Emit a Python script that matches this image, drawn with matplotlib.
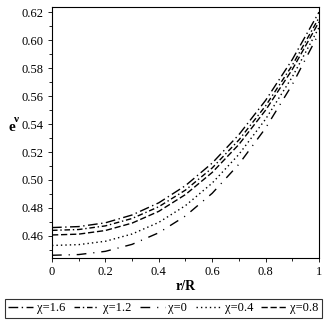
import numpy as np
import matplotlib
matplotlib.use("Agg")
import matplotlib.pyplot as plt
from matplotlib.ticker import MultipleLocator

plt.rcParams['font.family'] = ['Liberation Serif', 'DejaVu Serif']

## data
r = [0.0, 0.1, 0.2, 0.3, 0.4, 0.5, 0.6, 0.7, 0.8, 0.9, 1.0]
chi_16 = [0.4660, 0.4667, 0.4694, 0.4750, 0.4837, 0.4960, 0.5121, 0.5324, 0.5569, 0.5861, 0.6200]
chi_12 = [0.4640, 0.4646, 0.4672, 0.4725, 0.4809, 0.4928, 0.5086, 0.5286, 0.5530, 0.5820, 0.6160]
chi_08 = [0.4607, 0.4613, 0.4639, 0.4692, 0.4776, 0.4896, 0.5054, 0.5254, 0.5499, 0.5790, 0.6130]
chi_04 = [0.4532, 0.4538, 0.4562, 0.4614, 0.4697, 0.4817, 0.4978, 0.5183, 0.5435, 0.5737, 0.6090]
chi_00 = [0.4462, 0.4467, 0.4490, 0.4540, 0.4623, 0.4743, 0.4905, 0.5113, 0.5371, 0.5682, 0.6050]

fig = plt.figure(figsize=(3.27, 3.22), dpi=100)
ax = fig.add_axes([0.159, 0.199, 0.8165, 0.779])

lw = 1.0
ax.plot(r, chi_16, color='k', lw=lw, dashes=(7, 2.5, 1, 2.5), label='χ=1.6')
ax.plot(r, chi_12, color='k', lw=lw, dashes=(4, 2, 1, 2), label='χ=1.2')
ax.plot(r, chi_00, color='k', lw=lw, dashes=(7, 5, 0.8, 5), label='χ=0')
ax.plot(r, chi_04, color='k', lw=lw, dashes=(1, 2.2), label='χ=0.4')
ax.plot(r, chi_08, color='k', lw=lw, dashes=(4.5, 2), label='χ=0.8')

ax.set_xlim(0, 1)
ax.set_ylim(0.4443, 0.6236)
ax.set_xticks([0, 0.2, 0.4, 0.6, 0.8, 1.0])
ax.set_xticklabels(['0', '0.2', '0.4', '0.6', '0.8', '1'])
ax.set_yticks(np.arange(0.46, 0.621, 0.02))
ax.set_yticklabels(['%.2f' % v for v in np.arange(0.46, 0.621, 0.02)])
ax.xaxis.set_minor_locator(MultipleLocator(0.1))
ax.yaxis.set_minor_locator(MultipleLocator(0.01))
ax.tick_params(which='major', direction='out', length=3, width=0.6, labelsize=9, pad=3)
ax.tick_params(which='minor', direction='out', length=2, width=0.6)
for s in ax.spines.values():
    s.set_linewidth(0.8)

ax.set_xlabel('r/R', fontsize=10, fontweight='bold', labelpad=1)
fig.text(0.026, 0.605, 'e', fontsize=11, fontweight='bold', ha='left', va='center')
fig.text(0.044, 0.628, 'ν', fontsize=8, fontweight='bold', ha='left', va='center')

leg = fig.legend(loc='lower center', bbox_to_anchor=(0.5, 0.012), ncol=5,
                 fontsize=9, frameon=True, fancybox=False, edgecolor='k',
                 handlelength=2.0, handletextpad=0.3, columnspacing=0.68,
                 borderpad=0.3, borderaxespad=0)
leg.get_frame().set_linewidth(0.8)

plt.savefig('out.png', dpi=100)
